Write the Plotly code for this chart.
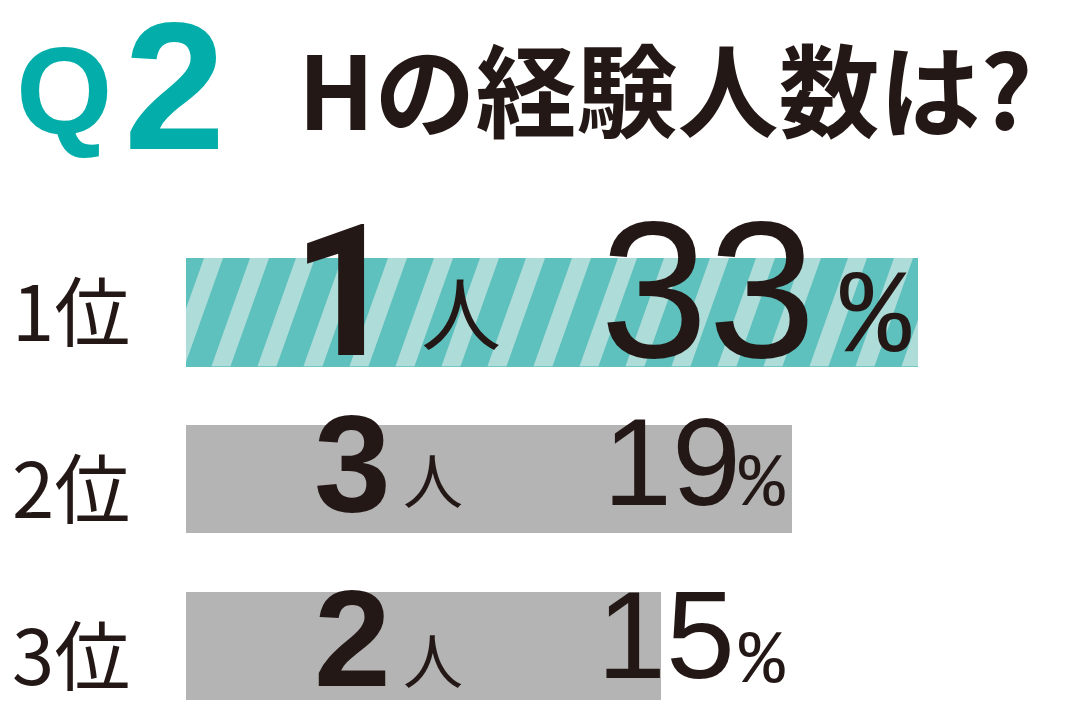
import base64
import plotly.graph_objects as go

# ---- data ----
ranks = ["1位", "2位", "3位"]
people = [1, 3, 2]            # number of partners
percent = [33, 19, 15]        # share of respondents (%)
bar_extent = [33, 27.3, 21.4] # drawn bar lengths (designed)
title = "Hの経験人数は?"
q_label = "Q"
q_number = "2"

W, H = 1080, 715
TEXT = "#231815"
TEAL = "#03aeaa"
STRIPE_DARK = "#5fc1bd"
STRIPE_LIGHT = "#aedcd9"
GRAY = "#b4b4b4"

px_per_unit = (918 - 186) / bar_extent[0]
x_range = [-186 / px_per_unit, (W - 186) / px_per_unit]
row_px = 167.0
y_range = [2 + (H - 646) / row_px, -312.5 / row_px]

rows = list(range(len(ranks)))
colors = [STRIPE_DARK] + [GRAY] * (len(ranks) - 1)

fig = go.Figure()
fig.add_trace(go.Bar(
    x=bar_extent, y=rows, orientation="h", width=0.65,
    marker=dict(color=colors, line=dict(width=0)),
    hoverinfo="skip", showlegend=False,
))

# striped overlay for the top bar (svg stripes stretched to the bar extent)
bw, bh = 732, 109
shift = 38.6
polys = []
k = -3
while True:
    xb = -20.6 + 46 * k
    if xb > bw + 10:
        break
    pts = f"{xb + shift},0 {xb + shift + 19},0 {xb + 19},{bh} {xb},{bh}"
    polys.append(f'<polygon points="{pts}" fill="{STRIPE_LIGHT}"/>')
    k += 1
svg = (f'<svg xmlns="http://www.w3.org/2000/svg" width="{bw}" height="{bh}" '
       f'viewBox="0 0 {bw} {bh}" preserveAspectRatio="none">'
       f'<rect width="{bw}" height="{bh}" fill="{STRIPE_DARK}"/>' + "".join(polys) + "</svg>")
src = "data:image/svg+xml;base64," + base64.b64encode(svg.encode()).decode()
fig.add_layout_image(dict(
    source=src, xref="x", yref="y", x=0, y=rows[0] - 0.325,
    sizex=bar_extent[0], sizey=0.65, sizing="stretch",
    xanchor="left", yanchor="top", layer="above",
))

LAT = "Liberation Sans"
ROBOTO = "Roboto"
MONO = "Liberation Mono"
CJK = "Noto Sans CJK JP"


def ann(text, x, y, size, family, color=TEXT, weight=400, xa="center", ya="middle"):
    fig.add_annotation(
        text=text, x=x / W, y=1 - y / H, xref="paper", yref="paper",
        xanchor=xa, yanchor=ya, showarrow=False,
        font=dict(size=size, family=family, color=color, weight=weight),
    )


# header
ann(q_label, 64, 91, 124, LAT, TEAL, 700)
ann(q_number, 174, 86, 182, LAT, TEAL, 700)
ann(title, 665, 86, 101, CJK, TEXT, 700)

# row labels and in-bar texts
rank_y = [308, 485, 652]
num_pos = [(345, 292, 184, ROBOTO), (352, 463, 138, LAT), (352, 638, 138, LAT)]
nin_pos = [(461, 309, 80), (433, 477, 60), (433, 657, 60)]
pct_pos = [(708, 289, 194), (743, 462, 124), (737, 635, 124)]
sym_pos = [(875, 320, 118), (737, 485, 76), (737, 662, 76)]

for i in rows:
    ann(ranks[i], 71, rank_y[i], 76, CJK, TEXT, 400)
    x, y, s, fam = num_pos[i]
    ann(str(people[i]), x, y, s, fam, TEXT, 700)
    x, y, s = nin_pos[i]
    ann("人", x, y, s, CJK, TEXT, 400)
    x, y, s = pct_pos[i]
    ann(str(percent[i]), x, y, s, LAT, TEXT, 400, xa="center" if i == 0 else "right")
    x, y, s = sym_pos[i]
    ann("%", x, y, s, MONO, TEXT, 400, xa="center" if i == 0 else "left")

fig.update_layout(
    width=W, height=H,
    margin=dict(l=0, r=0, t=0, b=0),
    paper_bgcolor="white", plot_bgcolor="white",
    bargap=0,
    xaxis=dict(range=x_range, visible=False, fixedrange=True),
    yaxis=dict(range=y_range, visible=False, fixedrange=True),
)

fig.write_html("out.html", config={"displayModeBar": False},
               post_script="document.body.style.margin='0';")
